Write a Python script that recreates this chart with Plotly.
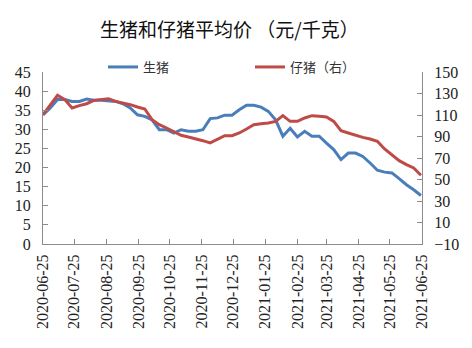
import pandas as pd
import plotly.graph_objects as go

dates = pd.date_range("2020-06-25", periods=53, freq="7D")

live_hog = [33.8, 35.6, 37.8, 37.8, 37.3, 37.3, 37.9, 37.6, 37.6, 37.5,
            37.3, 36.7, 35.6, 33.8, 33.4, 32.5, 29.9, 29.9, 29.0, 29.9,
            29.5, 29.5, 29.9, 32.8, 33.0, 33.7, 33.7, 35.1, 36.3, 36.3,
            35.8, 34.7, 32.5, 28.2, 30.3, 28.0, 29.5, 28.2, 28.2, 26.4,
            24.7, 22.1, 23.8, 23.8, 22.9, 21.2, 19.3, 18.8, 18.6, 17.1,
            15.5, 14.2, 12.7]

piglet = [110.3, 119.6, 128.3, 124.3, 116.5, 118.7, 120.5, 123.6, 124.3, 125.2,
          122.7, 121.2, 119.6, 117.4, 115.6, 105.7, 101.0, 97.9, 94.2, 91.1,
          89.5, 88.0, 86.1, 84.0, 87.1, 90.8, 90.8, 93.3, 97.0, 101.0,
          101.9, 102.6, 104.1, 109.4, 104.1, 104.1, 107.2, 109.4, 108.8, 108.1,
          104.1, 95.4, 93.3, 91.1, 89.2, 87.7, 85.5, 78.4, 73.1, 67.5,
          63.8, 60.7, 53.9]

tick_dates = ["2020-06-25", "2020-07-25", "2020-08-25", "2020-09-25", "2020-10-25",
              "2020-11-25", "2020-12-25", "2021-01-25", "2021-02-25", "2021-03-25",
              "2021-04-25", "2021-05-25", "2021-06-25"]

title_text = "生猪和仔猪平均价 （元/千克）"
name_hog = "生猪"
name_piglet = "仔猪（右）"

BLUE = "#4A7EBB"
RED = "#BE4B48"
AXIS = "#8C8C8C"
SERIF = "Liberation Serif, Noto Sans CJK SC, serif"
CJK = "Noto Sans CJK SC, sans-serif"

fig = go.Figure()
fig.add_trace(go.Scatter(x=dates, y=live_hog, name=name_hog, mode="lines",
                         line=dict(color=BLUE, width=3), yaxis="y",
                         legend="legend", showlegend=True))
fig.add_trace(go.Scatter(x=dates, y=piglet, name=name_piglet, mode="lines",
                         line=dict(color=RED, width=3), yaxis="y2",
                         legend="legend2", showlegend=True))

axis_common = dict(showline=True, linecolor=AXIS, linewidth=1, ticks="inside",
                   ticklen=5, tickcolor=AXIS, showgrid=False, zeroline=False,
                   automargin=False,
                   tickfont=dict(family=SERIF, size=16, color="#222"))

legend_common = dict(xref="container", xanchor="left", y=1 - 67 / 348,
                     yref="container", yanchor="middle", bgcolor="rgba(0,0,0,0)",
                     font=dict(family=CJK, size=13, color="#333"), itemwidth=30,
                     orientation="h", visible=True)

fig.update_layout(
    width=472, height=348,
    showlegend=True,
    margin=dict(l=43, r=50, t=72, b=104, autoexpand=False),
    paper_bgcolor="white", plot_bgcolor="white",
    title=dict(text=title_text, x=0.486, xanchor="center", y=1 - 30 / 348,
               yanchor="middle", yref="container",
               font=dict(family=CJK, size=19, color="#111")),
    xaxis=dict(range=["2020-06-25", "2021-06-25"], tickvals=tick_dates,
               ticktext=tick_dates, tickangle=-90, ticklabelstandoff=3, **axis_common),
    yaxis=dict(range=[0, 45], dtick=5, tick0=0, ticklabelstandoff=8, **axis_common),
    yaxis2=dict(range=[-10, 150], dtick=20, tick0=-10, overlaying="y", side="right",
                ticklabelstandoff=8, **axis_common),
    legend=dict(x=103 / 472, **legend_common),
    legend2=dict(x=250 / 472, **legend_common),
)

fig.write_html("out.html")
